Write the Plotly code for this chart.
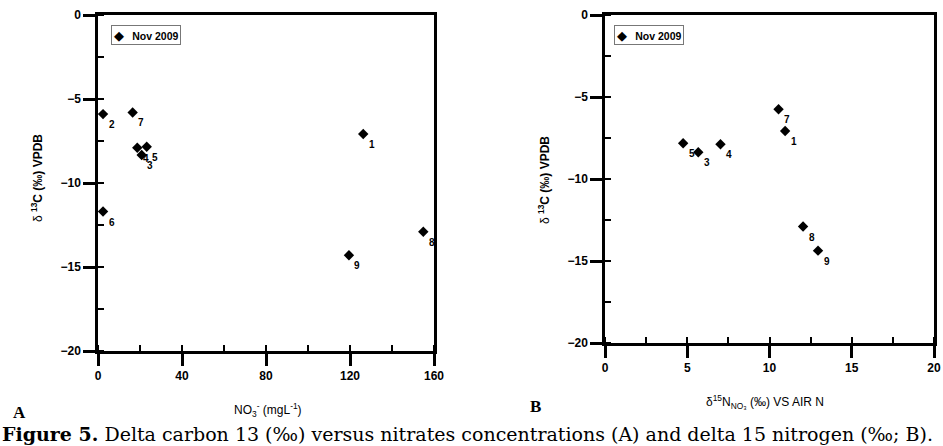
import plotly.graph_objects as go

# ---- data ----
sample_ids = ["1", "2", "3", "4", "5", "6", "7", "8", "9"]
nitrate_mgL = [126.3, 2.4, 20.8, 18.7, 23.2, 2.4, 16.5, 154.9, 119.5]
d13c_A = [-7.08, -5.9, -8.33, -7.9, -7.84, -11.7, -5.8, -12.9, -14.3]

ids_B = ["1", "3", "4", "5", "7", "8", "9"]
d15n_B = [10.95, 5.67, 7.02, 4.75, 10.55, 12.04, 12.95]
d13c_B = [-7.07, -8.37, -7.88, -7.82, -5.75, -12.9, -14.37]

series_name = "Nov 2009"
xticks_A = [0, 40, 80, 120, 160]
xticks_B = [0, 5, 10, 15, 20]
yticks = [0, -5, -10, -15, -20]

W, H = 943, 446
TICKFONT = dict(family="Liberation Sans, Arial", size=12, color="black", weight="bold")
LABFONT = dict(family="Liberation Sans, Arial", size=10, color="black", weight="bold")

fig = go.Figure()
fig.add_trace(go.Scatter(x=nitrate_mgL, y=d13c_A, mode="markers", name=series_name,
                         marker=dict(symbol="diamond", size=8, color="black"),
                         xaxis="x", yaxis="y", showlegend=False, cliponaxis=False))
fig.add_trace(go.Scatter(x=d15n_B, y=d13c_B, mode="markers", name=series_name,
                         marker=dict(symbol="diamond", size=8, color="black"),
                         xaxis="x2", yaxis="y2", showlegend=False, cliponaxis=False))

ann = []
for xv, yv, t in zip(nitrate_mgL, d13c_A, sample_ids):
    ann.append(dict(x=xv, y=yv, xref="x", yref="y", text=t, showarrow=False,
                    xanchor="center", yanchor="middle",
                    xshift=8.5, yshift=-10.5, font=LABFONT))
for xv, yv, t in zip(d15n_B, d13c_B, ids_B):
    ann.append(dict(x=xv, y=yv, xref="x2", yref="y2", text=t, showarrow=False,
                    xanchor="center", yanchor="middle",
                    xshift=8.5, yshift=-10.5, font=LABFONT))

def px(x):
    return x / W

def py(y):
    return 1 - y / H

def note(x, y, text, font, **kw):
    d = dict(x=px(x), y=py(y), xref="paper", yref="paper", text=text, showarrow=False,
             xanchor="center", yanchor="middle", font=font)
    d.update(kw)
    return d

# legends (boxed)
for x0 in (111, 614):
    ann.append(note(x0, 25, "<span style='font-size:13px'>◆</span>   <b>" + series_name + "</b>",
                    dict(family="Liberation Sans, Arial", size=10.5, color="black"),
                    xanchor="left", yanchor="top",
                    bordercolor="#777777", borderwidth=1, borderpad=1.5, bgcolor="white"))

# axis titles
ytitle = "δ <b><sup>13</sup>C (‰) VPDB</b>"
TF = dict(family="Liberation Sans, Arial", size=12, color="black")
ann.append(note(37, 178, ytitle, TF, textangle=-90))
ann.append(note(544, 180, ytitle, TF, textangle=-90))
ann.append(note(268, 410, "NO<sub>3</sub><sup>-</sup> (mgL<sup>-1</sup>)", TF))
ann.append(note(765, 402, "δ<sup>15</sup>N<sub>NO₃</sub> (‰) VS AIR N", TF))

# panel letters
LF = dict(family="Liberation Serif, DejaVu Serif", size=17, color="black")
ann.append(note(19, 412, "<b>A</b>", LF))
ann.append(note(535, 406, "<b>B</b>", LF))

# caption
ann.append(note(0, 434,
                "<b>Figure 5.</b> Delta carbon 13 (‰) versus nitrates concentrations (A) and delta 15 nitrogen (‰; B).",
                dict(family="DejaVu Serif", size=19, color="black"), xanchor="left"))

def xaxis(dom, rng, ticks, minor, anchor):
    return dict(domain=dom, range=rng, tickvals=ticks, ticks="outside", ticklen=12, tickwidth=2.5,
                tickcolor="black", showline=True, linewidth=2.5, linecolor="black", mirror=True,
                showgrid=False, zeroline=False, tickfont=TICKFONT, anchor=anchor,
                minor=dict(dtick=minor, tick0=0, ticks="inside", ticklen=6, tickwidth=2, tickcolor="black"))

def yaxis(dom, anchor):
    return dict(domain=dom, range=[-20, 0], tickvals=yticks, ticks="outside", ticklen=12, tickwidth=2.5,
                tickcolor="black", showline=True, linewidth=2.5, linecolor="black", mirror=True,
                showgrid=False, zeroline=False, tickfont=TICKFONT, anchor=anchor,
                minor=dict(dtick=2.5, tick0=0, ticks="inside", ticklen=6, tickwidth=2, tickcolor="black"))

fig.update_layout(
    width=W, height=H, margin=dict(l=0, r=0, t=0, b=0, autoexpand=False),
    paper_bgcolor="white", plot_bgcolor="white",
    xaxis=xaxis([98 / W, 434 / W], [0, 160], xticks_A, 20, "y"),
    yaxis=yaxis([1 - 351 / H, 1 - 15 / H], "x"),
    xaxis2=xaxis([605 / W, 934 / W], [0, 20], xticks_B, 2.5, "y2"),
    yaxis2=yaxis([1 - 343 / H, 1 - 15 / H], "x2"),
    annotations=ann,
    showlegend=False,
)

fig.write_html("out.html", config={"responsive": False, "displayModeBar": False},
               post_script="document.body.style.margin='0';document.body.style.overflow='hidden';")
